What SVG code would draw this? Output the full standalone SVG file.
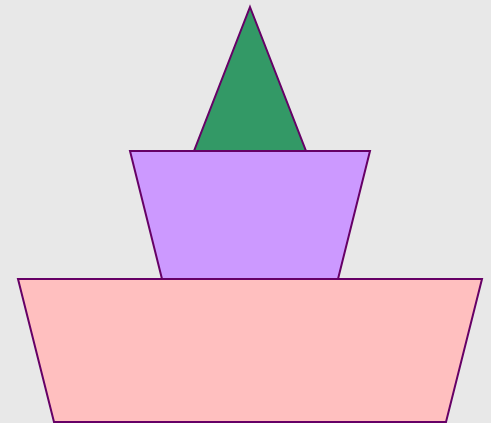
<svg xmlns="http://www.w3.org/2000/svg" width="491" height="423" viewBox="0 0 491 423">
<style>
.s{stroke:#660066;stroke-width:2;stroke-linejoin:miter}
</style>
<rect width="491" height="423" fill="#e8e8e8"/>
<g id="top"><polygon class="s" points="250,7 306,151 194,151" fill="#339966"/></g>
<g id="middle"><polygon class="s" points="130,151 370,151 338,279 162,279" fill="#cc99ff"/></g>
<g id="bottom"><polygon class="s" points="18,279 482,279 446,422 54,422" fill="#ffbfbf"/></g>
<g id="connectors"></g>
</svg>
